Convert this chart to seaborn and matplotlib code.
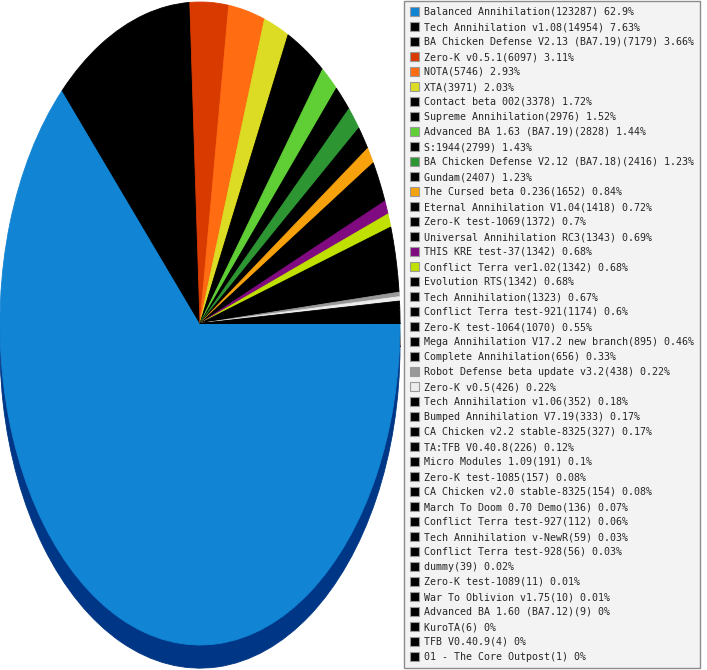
import numpy as np
import pandas as pd
import matplotlib
matplotlib.use("Agg")
import matplotlib.pyplot as plt
import matplotlib.colors as mcolors
from matplotlib.patches import Rectangle
import seaborn as sns

names = [
    "Balanced Annihilation", "Tech Annihilation v1.08", "BA Chicken Defense V2.13 (BA7.19)",
    "Zero-K v0.5.1", "NOTA", "XTA", "Contact beta 002", "Supreme Annihilation",
    "Advanced BA 1.63 (BA7.19)", "S:1944", "BA Chicken Defense V2.12 (BA7.18)", "Gundam",
    "The Cursed beta 0.236", "Eternal Annihilation V1.04", "Zero-K test-1069",
    "Universal Annihilation RC3", "THIS KRE test-37", "Conflict Terra ver1.02",
    "Evolution RTS", "Tech Annihilation", "Conflict Terra test-921", "Zero-K test-1064",
    "Mega Annihilation V17.2 new branch", "Complete Annihilation",
    "Robot Defense beta update v3.2", "Zero-K v0.5", "Tech Annihilation v1.06",
    "Bumped Annihilation V7.19", "CA Chicken v2.2 stable-8325", "TA:TFB V0.40.8",
    "Micro Modules 1.09", "Zero-K test-1085", "CA Chicken v2.0 stable-8325",
    "March To Doom 0.70 Demo", "Conflict Terra test-927", "Tech Annihilation v-NewR",
    "Conflict Terra test-928", "dummy", "Zero-K test-1089", "War To Oblivion v1.75",
    "Advanced BA 1.60 (BA7.12)", "KuroTA", "TFB V0.40.9", "01 - The Core Outpost",
]
counts = [
    123287, 14954, 7179, 6097, 5746, 3971, 3378, 2976, 2828, 2799, 2416, 2407,
    1652, 1418, 1372, 1343, 1342, 1342, 1342, 1323, 1174, 1070, 895, 656, 438,
    426, 352, 333, 327, 226, 191, 157, 154, 136, 112, 59, 56, 39, 11, 10, 9, 6, 4, 1,
]
pcts = [
    "62.9", "7.63", "3.66", "3.11", "2.93", "2.03", "1.72", "1.52", "1.44", "1.43",
    "1.23", "1.23", "0.84", "0.72", "0.7", "0.69", "0.68", "0.68", "0.68", "0.67",
    "0.6", "0.55", "0.46", "0.33", "0.22", "0.22", "0.18", "0.17", "0.17", "0.12",
    "0.1", "0.08", "0.08", "0.07", "0.06", "0.03", "0.03", "0.02", "0.01", "0.01",
    "0", "0", "0", "0",
]
special_colors = {
    "Balanced Annihilation": "#1284d4",
    "Zero-K v0.5.1": "#d83a00",
    "NOTA": "#ff6c12",
    "XTA": "#dcdc24",
    "Advanced BA 1.63 (BA7.19)": "#60cf36",
    "BA Chicken Defense V2.12 (BA7.18)": "#2d9633",
    "The Cursed beta 0.236": "#f7a10d",
    "THIS KRE test-37": "#800a80",
    "Conflict Terra ver1.02": "#bfe000",
    "Robot Defense beta update v3.2": "#999999",
    "Zero-K v0.5": "#ececec",
}

df = pd.DataFrame({"name": names, "count": counts, "pct": pcts})
df["color"] = [special_colors.get(n, "#000000") for n in df["name"]]
df["label"] = [f"{n}({c}) {p}%" for n, c, p in zip(df["name"], df["count"], df["pct"])]

sns.set_style("white")
plt.rcParams["font.family"] = ["DejaVu Sans Mono", "DejaVu Sans"]

W, H = 707, 670
fig = plt.figure(figsize=(W / 100, H / 100), dpi=100)
fig.patch.set_facecolor("white")

# pie axes: elliptical pie, x 0..400 px, y 2..645 px
ax = fig.add_axes([0, 25 / H, 400 / W, 643 / H])

shadow_colors = []
for c in df["color"]:
    if c == "#1284d4":
        shadow_colors.append("#003686")
    else:
        r, g, b = mcolors.to_rgb(c)
        shadow_colors.append((r * 0.5, g * 0.5, b * 0.5))

sw, _ = ax.pie(df["count"], colors=shadow_colors, startangle=0, counterclock=False,
               center=(0, -0.072), wedgeprops=dict(linewidth=0.6))
for w in sw:
    w.set_edgecolor(w.get_facecolor())
    w.set_clip_on(False)
wedges, _ = ax.pie(df["count"], colors=df["color"], startangle=0, counterclock=False,
                   wedgeprops=dict(linewidth=0.6))
for w in wedges:
    w.set_edgecolor(w.get_facecolor())
    w.set_clip_on(False)
ax.set_xlim(-1, 1)
ax.set_ylim(-1, 1)
ax.set_aspect("auto")
ax.axis("off")

handles = [Rectangle((0, 0), 1, 1, facecolor=c, edgecolor="#9a9a9a", linewidth=0.8)
           for c in df["color"]]
leg = fig.legend(handles, df["label"], loc="upper left",
                 bbox_to_anchor=(404 / W, 1.0 - 1 / H), bbox_transform=fig.transFigure,
                 borderaxespad=0, borderpad=0.6, fontsize=7.2,
                 handlelength=0.9, handleheight=0.9, handletextpad=0.45,
                 labelspacing=0.5, frameon=True, fancybox=False, framealpha=1,
                 facecolor="#f3f3f3", edgecolor="#8c8c8c")
leg.get_frame().set_linewidth(1.0)

fig.savefig("out.png", dpi=100, facecolor="white")
